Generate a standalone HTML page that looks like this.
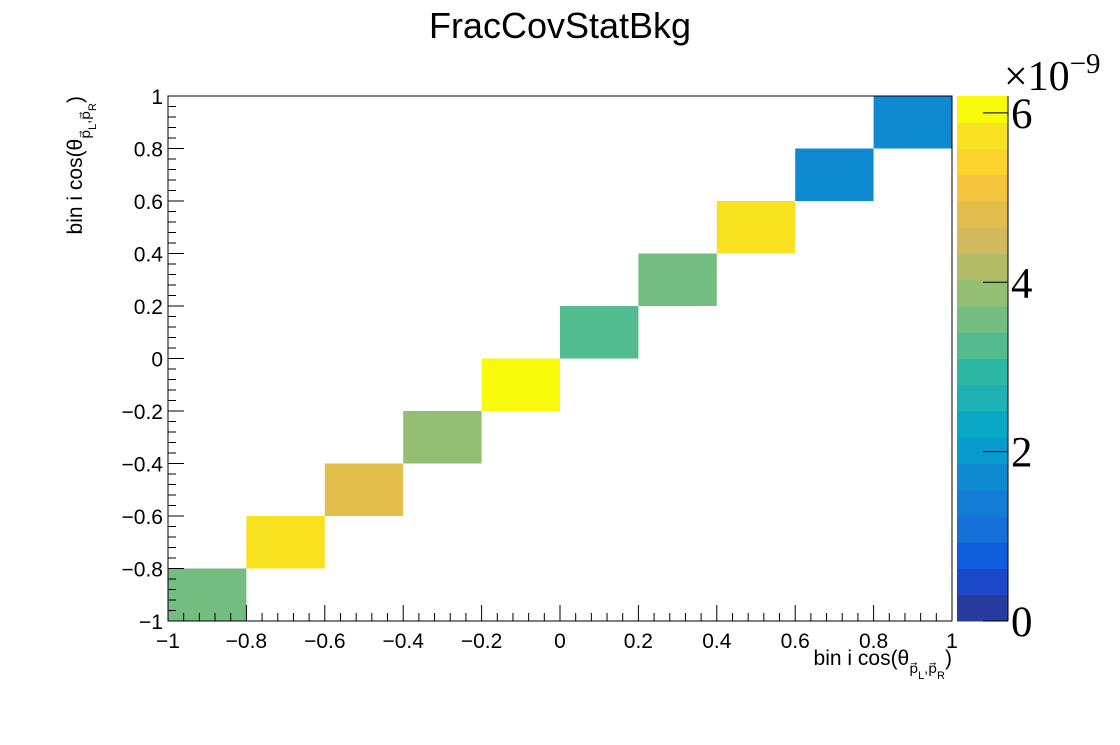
<!DOCTYPE html>
<html><head><meta charset="utf-8"><style>
body{margin:0;background:#fff;}
svg text{font-family:"Liberation Sans",sans-serif;}
</style></head><body>
<svg id="c" width="1120" height="740" xmlns="http://www.w3.org/2000/svg">
<rect width="1120" height="740" fill="#fff"/>
<text x="560" y="38" font-size="36" text-anchor="middle">FracCovStatBkg</text>
<g id="cells"></g>
<g id="palette"></g>
<g id="axes"></g>
<text x="952" y="665" font-size="21" text-anchor="end">bin i cos(θ<tspan font-size="14" dy="8">p⃗</tspan><tspan font-size="11" dy="6">L</tspan><tspan font-size="14" dy="-6">,p⃗</tspan><tspan font-size="11" dy="6">R</tspan><tspan dy="-14">)</tspan></text>
<text transform="translate(82,96) rotate(-90)" font-size="21" text-anchor="end">bin i cos(θ<tspan font-size="14" dy="8">p⃗</tspan><tspan font-size="11" dy="6">L</tspan><tspan font-size="14" dy="-6">,p⃗</tspan><tspan font-size="11" dy="6">R</tspan><tspan dy="-14">)</tspan></text>
<text x="1004" y="90" font-size="42" style="font-family:'Liberation Serif',serif">×10<tspan font-size="29" dy="-17">−9</tspan></text>
</svg>
<script>
const binEdges=[-1,-0.8,-0.6,-0.4,-0.2,0,0.2,0.4,0.6,0.8,1];
const diagValues=[3.6,5.7,4.8,3.9,6.15,3.3,3.6,5.7,1.75,1.75];
const xTicks=[-1,-0.8,-0.6,-0.4,-0.2,0,0.2,0.4,0.6,0.8,1];
const xTickLabels=["−1","−0.8","−0.6","−0.4","−0.2","0","0.2","0.4","0.6","0.8","1"];
const yTickLabels=["−1","−0.8","−0.6","−0.4","−0.2","0","0.2","0.4","0.6","0.8","1"];
const zTicks=[0,2,4,6];
const zMax=6.2;
const paletteColors=["#283b9f","#1a48c6","#0f5ddc","#1570d8","#137dd6","#0f8ad1","#099bcd","#0aa8c4","#1eb1b4","#2db8a4","#52bb8f","#74bd80","#94be73","#b2bc66","#d0b95e","#e2be4c","#f4c43c","#fcd22c","#f8e220","#f8fa0c"];
const NS="http://www.w3.org/2000/svg";
const X0=168,X1=952,Y0=621,Y1=96,PX0=957,PX1=1008;
const sx=v=>X0+(v+1)/2*(X1-X0);
const sy=v=>Y0-(v+1)/2*(Y0-Y1);
const sz=v=>Y0-v/zMax*(Y0-Y1);
function mk(t,a,p){const e=document.createElementNS(NS,t);for(const k in a)e.setAttribute(k,a[k]);p.appendChild(e);return e;}
function colorOf(v){let i=Math.floor(v/zMax*paletteColors.length);if(i<0)i=0;if(i>=paletteColors.length)i=paletteColors.length-1;return paletteColors[i];}
const cells=document.getElementById('cells');
diagValues.forEach((v,i)=>{
 const r=mk('rect',{x:sx(binEdges[i]),y:sy(binEdges[i+1]),width:sx(binEdges[i+1])-sx(binEdges[i]),height:sy(binEdges[i])-sy(binEdges[i+1]),fill:colorOf(v)},cells);
 
 
});
const pal=document.getElementById('palette');
paletteColors.forEach((c,i)=>{
 const y1=sz(i*zMax/paletteColors.length),y2=sz((i+1)*zMax/paletteColors.length);
 const r=mk('rect',{x:PX0,y:y2,width:PX1-PX0,height:y1-y2+0.5,fill:c},pal);
 
 
});
mk('line',{x1:PX1,y1:Y1,x2:PX1,y2:Y0,stroke:'#000'},pal);
zTicks.forEach(t=>{
 mk('line',{x1:PX1-25,x2:PX1,y1:sz(t),y2:sz(t),stroke:'#000'},pal);
 const tx=mk('text',{x:PX1+3,y:sz(t)+15,'font-size':43,style:"font-family:'Liberation Serif',serif"},pal);
 tx.textContent=t;
 
 
});
const ax=document.getElementById('axes');
mk('rect',{x:X0,y:Y1,width:X1-X0,height:Y0-Y1,fill:'none',stroke:'#000'},ax);
for(let k=0;k<=50;k++){
 const v=-1+k*0.04,maj=k%5===0,L=maj?16:8;
 mk('line',{x1:sx(v),x2:sx(v),y1:Y0,y2:Y0-L,stroke:'#000'},ax);
 mk('line',{x1:X0,x2:X0+L,y1:sy(v),y2:sy(v),stroke:'#000'},ax);
}
xTicks.forEach((v,i)=>{
 const t=mk('text',{x:sx(v),y:Y0+27,'font-size':21,'text-anchor':'middle'},ax);
 t.textContent=xTickLabels[i];
 
 
 const u=mk('text',{x:X0-5,y:sy(v)+8,'font-size':21,'text-anchor':'end'},ax);
 u.textContent=yTickLabels[i];
 
 
});
</script>
</body></html>
